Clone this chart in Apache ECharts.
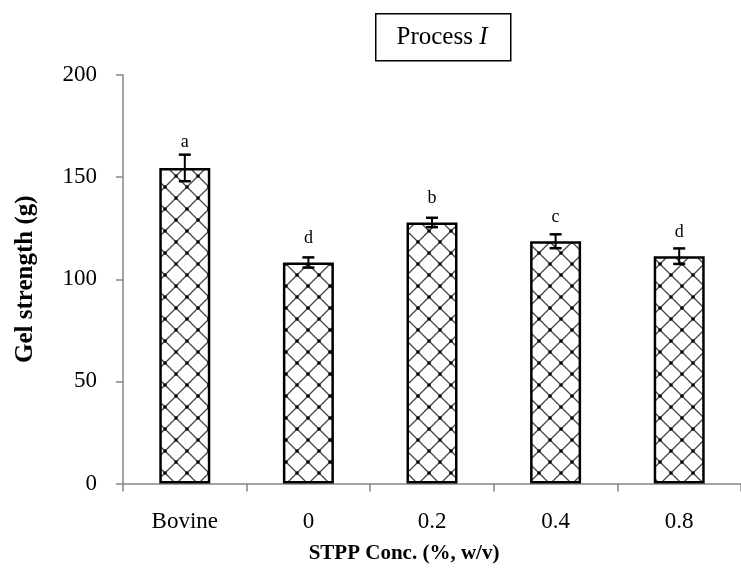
<!DOCTYPE html>
<html>
<head>
<meta charset="utf-8">
<script src="https://cdn.jsdelivr.net/npm/echarts@6/dist/echarts.min.js"></script>
<style>
html,body{margin:0;padding:0;background:#fff;}
#chart{width:741px;height:574px;}
</style>
</head>
<body>
<div id="chart"></div>
<script>
// ---- data ----
const categories = ['Bovine', '0', '0.2', '0.4', '0.8'];
const means = [154.5, 108.2, 127.8, 118.6, 111.3];
const errors = [6.5, 2.5, 2.3, 3.4, 3.8];
const letters = ['a', 'd', 'b', 'c', 'd'];
const yMin = 0, yMax = 200, yInterval = 50;

// ---- hatch pattern (style only) ----
function makePattern() {
  const s = 22;
  const c = document.createElement('canvas');
  c.width = s; c.height = s;
  const g = c.getContext('2d');
  g.fillStyle = '#fff'; g.fillRect(0, 0, s, s);
  g.strokeStyle = '#444'; g.lineWidth = 1.3;
  g.beginPath(); g.moveTo(0, 0); g.lineTo(s, s); g.moveTo(s, 0); g.lineTo(0, s); g.stroke();
  g.fillStyle = '#000';
  const pts = [[s/2, s/2], [0, 0], [s, 0], [0, s], [s, s]];
  pts.forEach(p => { g.beginPath(); g.arc(p[0], p[1], 1.8, 0, Math.PI * 2); g.fill(); });
  return c;
}

const chart = echarts.init(document.getElementById('chart'));
const serif = 'Liberation Serif';
const axisGray = '#868686';

chart.setOption({
  animation: false,
  grid: { left: 123, top: 75, bottom: 90.5, right: -7, containLabel: false },
  xAxis: {
    type: 'category',
    data: categories,
    boundaryGap: true,
    axisLine: { lineStyle: { color: axisGray, width: 1.5 } },
    axisTick: { show: true, length: 8, lineStyle: { color: axisGray, width: 1.5 } },
    axisLabel: { fontFamily: serif, fontSize: 23, color: '#000', margin: 27 },
    name: 'STPP Conc. (%, w/v)',
    nameLocation: 'middle',
    nameGap: 60,
    nameTextStyle: { fontFamily: serif, fontSize: 21, fontWeight: 'bold', color: '#000', padding: [0, 56, 0, 0] }
  },
  yAxis: {
    type: 'value',
    min: yMin, max: yMax, interval: yInterval,
    axisLine: { show: true, lineStyle: { color: axisGray, width: 1.5 } },
    axisTick: { show: true, length: 7, lineStyle: { color: axisGray, width: 1.5 } },
    splitLine: { show: false },
    axisLabel: { fontFamily: serif, fontSize: 23, color: '#000', margin: 26 },
    name: 'Gel strength (g)',
    nameLocation: 'middle',
    nameGap: 85,
    nameTextStyle: { fontFamily: serif, fontSize: 25, fontWeight: 'bold', color: '#000' }
  },
  graphic: [
    {
      type: 'rect', left: 375, top: 13,
      shape: { width: 135, height: 47 },
      style: { fill: '#fff', stroke: '#000', lineWidth: 1.5 }
    },
    {
      type: 'text', x: 442, y: 37,
      style: {
        text: '{n|Process }{i|I}',
        align: 'center', verticalAlign: 'middle',
        rich: {
          n: { fontFamily: serif, fontSize: 25, fill: '#000' },
          i: { fontFamily: serif, fontSize: 25, fontStyle: 'italic', fill: '#000' }
        }
      }
    }
  ],
  series: [
    {
      type: 'bar',
      data: means,
      barWidth: 51,
      itemStyle: {
        color: { image: makePattern(), repeat: 'repeat' },
        borderColor: '#000',
        borderWidth: 2.5
      },
      z: 2
    },
    {
      type: 'custom',
      data: categories.map((c, i) => [i, means[i] - errors[i], means[i] + errors[i], means[i]]),
      renderItem: function (params, api) {
        const x = api.value(0);
        const lo = api.coord([x, api.value(1)]);
        const hi = api.coord([x, api.value(2)]);
        const top = api.coord([x, api.value(3)]);
        const cap = 6;
        const st = { stroke: '#000', lineWidth: 2 };
        return {
          type: 'group',
          children: [
            { type: 'line', shape: { x1: hi[0], y1: hi[1], x2: lo[0], y2: lo[1] }, style: st },
            { type: 'line', shape: { x1: hi[0] - cap, y1: hi[1], x2: hi[0] + cap, y2: hi[1] }, style: { stroke: '#000', lineWidth: 2.5 } },
            { type: 'line', shape: { x1: lo[0] - cap, y1: lo[1], x2: lo[0] + cap, y2: lo[1] }, style: { stroke: '#000', lineWidth: 2.5 } },
            { type: 'text', x: top[0], y: Math.min(top[1] - 15, hi[1] - 3),
              style: { text: letters[params.dataIndex], fontFamily: serif, fontSize: 18, fill: '#000', align: 'center', verticalAlign: 'bottom' } }
          ]
        };
      },
      z: 3
    }
  ]
});
</script>
</body>
</html>
